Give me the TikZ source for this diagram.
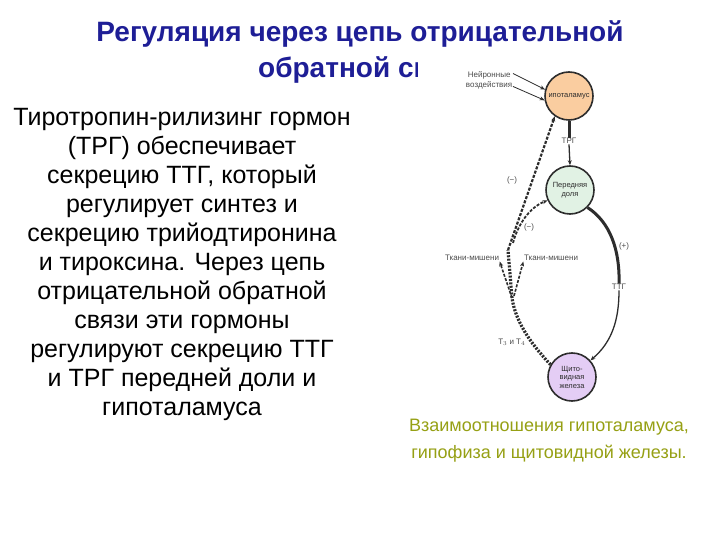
\documentclass[tikz,border=0pt]{standalone}
\usepackage{fontspec}
\setmainfont{Liberation Sans}
\usetikzlibrary{arrows.meta}
\definecolor{titleblue}{RGB}{30,30,150}
\definecolor{capcol}{RGB}{150,160,20}
\definecolor{hypofill}{RGB}{250,205,160}
\definecolor{pitfill}{RGB}{225,242,228}
\definecolor{thyfill}{RGB}{228,205,245}
\definecolor{ink}{RGB}{45,45,45}
\begin{document}
\begin{tikzpicture}[x=1pt,y=-1pt,
  titletext/.style={font=\fontsize{28}{32}\selectfont\bfseries, text=titleblue, inner sep=0pt},
  bodytext/.style={font=\fontsize{25}{29}\selectfont, align=center, inner sep=0pt},
  captext/.style={font=\fontsize{18}{27}\selectfont, text=capcol, align=center, inner sep=0pt},
  organ/.style={circle, draw=ink, line width=1.6pt, minimum size=48pt, inner sep=0pt, align=center, font=\fontsize{7.5}{8.5}\selectfont, text=ink},
  small/.style={font=\fontsize{8}{10}\selectfont, text=ink!85, inner sep=0.5pt, align=center},
  tip/.style={-{Stealth[length=5pt,width=4pt]}},
  hormdash/.style={ink, line width=2.2pt, dash pattern=on 3pt off 1.5pt},
  hormdot/.style={ink, line width=3.2pt, dash pattern=on 2pt off 1.4pt},
  solidthick/.style={ink, line width=3pt},
  solidthin/.style={ink, line width=1.3pt}
]
\useasboundingbox (0,0) rectangle (720,540);
\fill[white] (0,0) rectangle (720,540);

% title (second line partly hidden behind the figure)
\node[titletext] (t1) at (360,34) {Регуляция через цепь отрицательной};
\node[titletext, anchor=west] (t2) at (258,70) {обратной св};
\fill[white] (418,54) rectangle (660,412);

% body text
\node[bodytext, anchor=north] (body) at (182,108) {Тиротропин-рилизинг гормон\\(ТРГ) обеспечивает\\секрецию ТТГ, который\\регулирует синтез и\\секрецию трийодтиронина\\и тироксина. Через цепь\\отрицательной обратной\\связи эти гормоны\\регулируют секрецию ТТГ\\и ТРГ передней доли и\\гипоталамуса};

% organs
\node[organ, fill=hypofill] (hyp) at (569,96) {ипоталамус};
\node[organ, fill=pitfill] (pit) at (570,190) {Передняя\\доля};
\node[organ, fill=thyfill] (thy) at (572,377) {Щито-\\видная\\железа};

% neural input
\node[small, anchor=east] (neur) at (513,80) {Нейронные\\воздействия};
\draw[solidthin, line width=0.8pt, tip] (neur.north east) ++(0,3) -- (hyp.165);
\draw[solidthin, line width=0.8pt, tip] (neur.south east) ++(0,-3) -- (hyp.190);

% TRG
\node[small] (trg) at (569,141) {ТРГ};
\draw[solidthick] (hyp.south) -- (trg.north);
\draw[solidthin, tip] (trg.south) -- (pit.north);

% TTG
\node[small] (ttg) at (619,287) {ТТГ};
\node[small] (plus) at (624,246) {(+)};
\draw[solidthick] (pit.-45) .. controls (610,222) and (620,250) .. (ttg.north);
\draw[solidthin, tip] (ttg.south) .. controls (619,320) and (612,342) .. (thy.42);

% T3 T4
\coordinate (fork) at (512,298);
\coordinate (split) at (508,250);
\draw[hormdot] (thy.150) .. controls (535,348) and (516,325) .. (fork) -- (split);
\node[small, anchor=east] (t34) at (526,342) {Т$_3$ и Т$_4$};

% tissues
\node[small] (tl) at (472,258) {Ткани-мишени};
\node[small] (tr) at (551,258) {Ткани-мишени};
\draw[hormdash, line width=1.6pt, tip] (fork) -- (tl.south east);
\draw[hormdash, line width=1.6pt, tip] (514,296) -- (tr.south west);

% feedback
\draw[hormdash, tip] (split) -- (hyp.235);
\node[small] (m1) at (512,180) {(−)};
\draw[hormdash, line width=1.8pt, tip] (513,243) .. controls (518,224) and (530,207) .. (pit.205);
\node[small] (m2) at (529,227) {(−)};

% caption
\node[captext] (cap) at (549,441) {Взаимоотношения гипоталамуса,\\гипофиза и щитовидной железы.};
\end{tikzpicture}
\end{document}
